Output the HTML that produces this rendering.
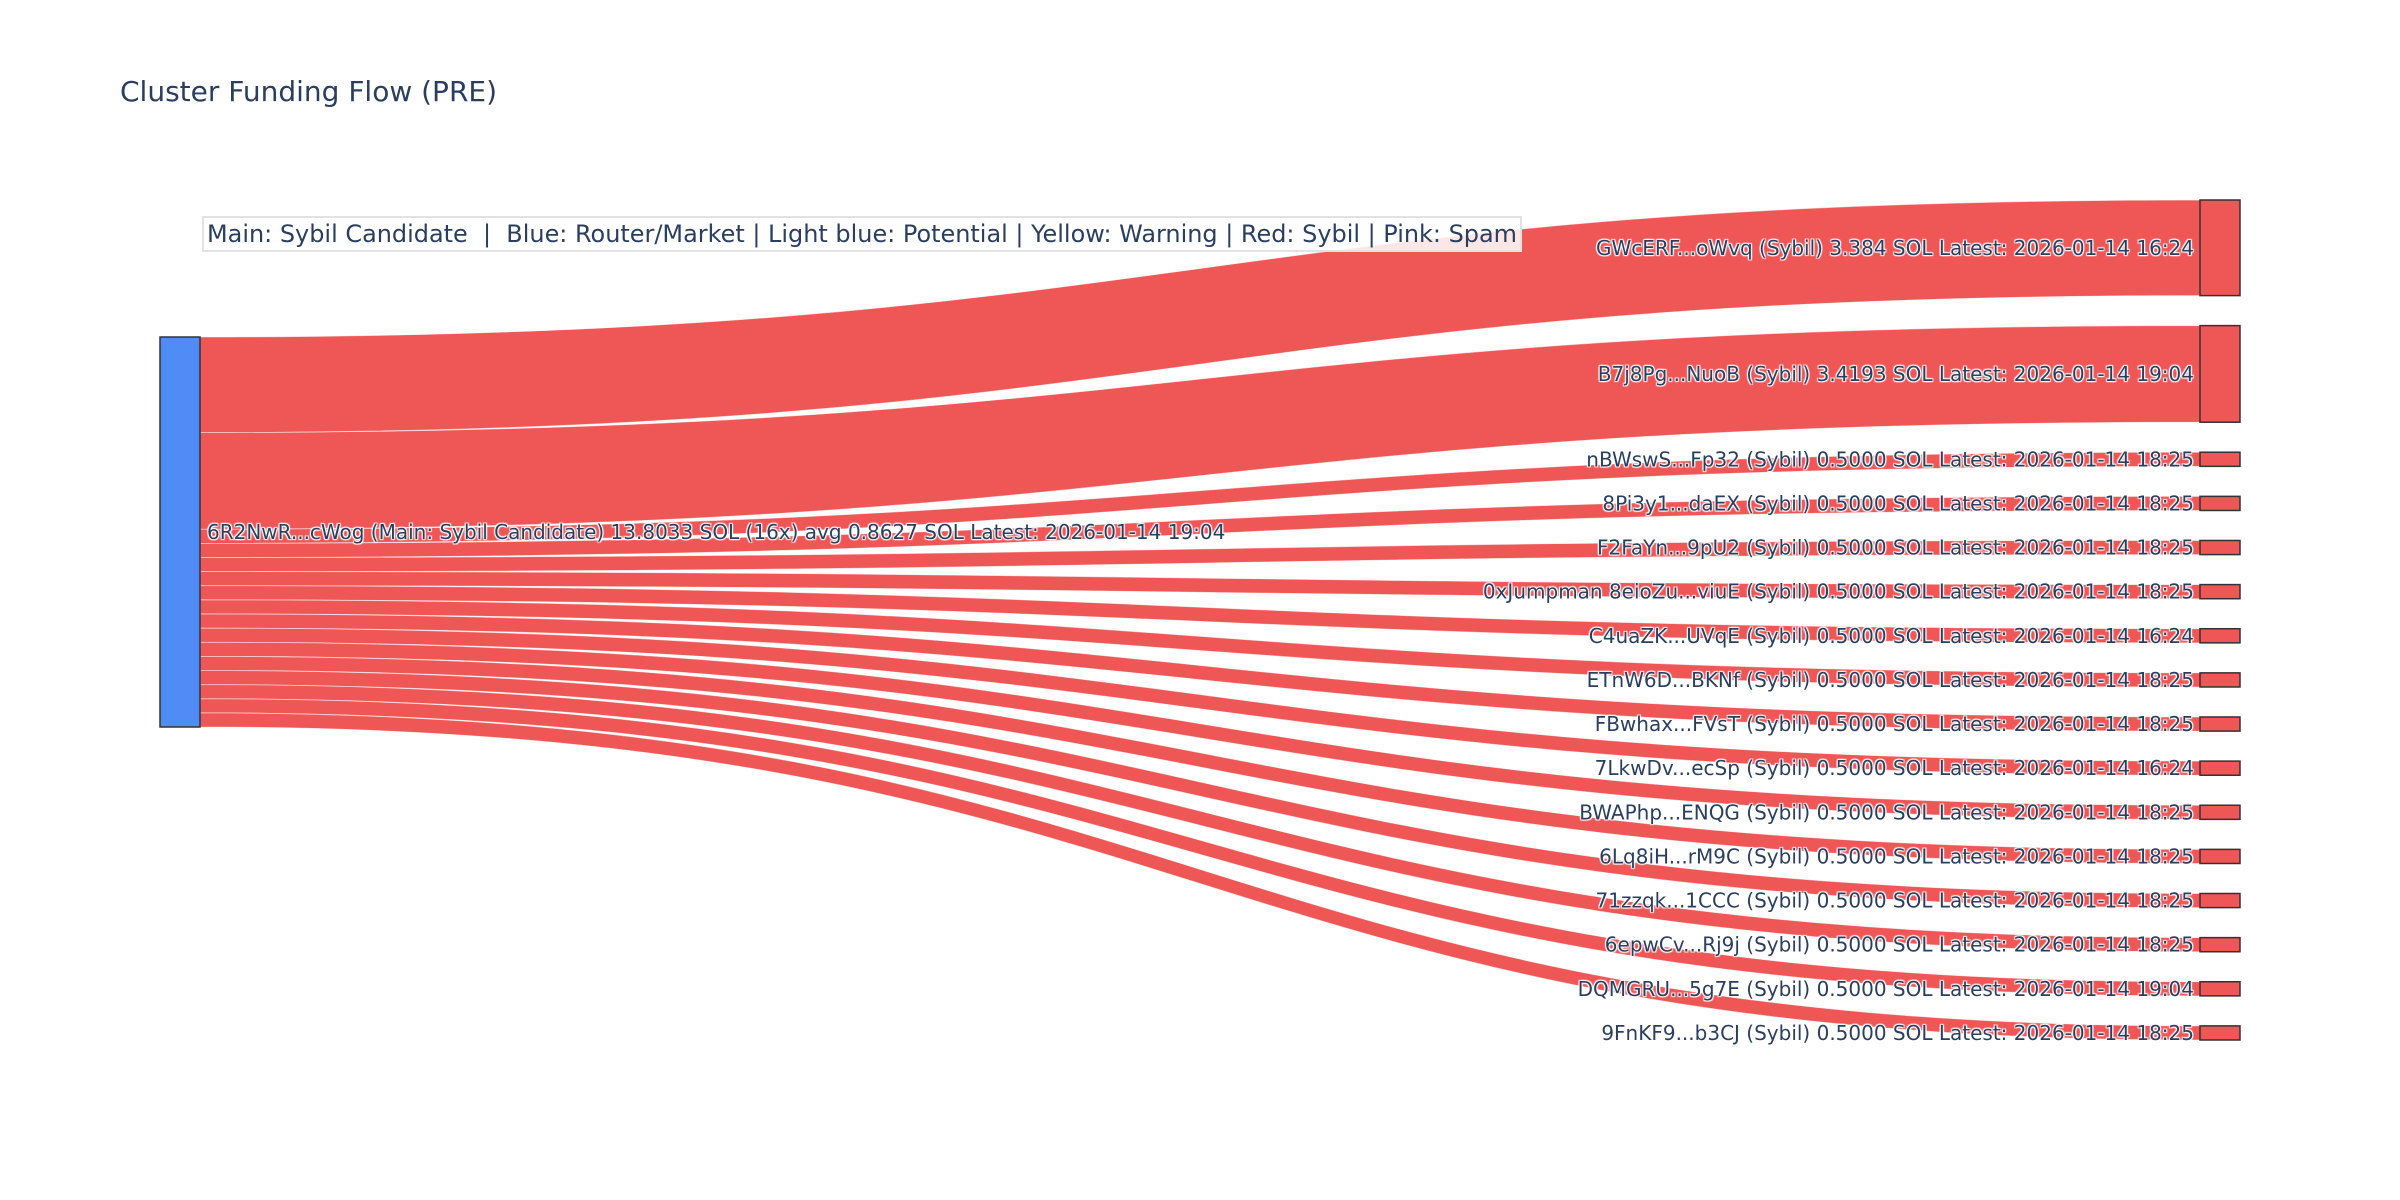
<!DOCTYPE html>
<html><head><meta charset="utf-8"><style>
html,body{margin:0;padding:0;background:#fff;}
svg{display:block;}
text{font-family:"DejaVu Sans","Liberation Sans",sans-serif;fill:#2a3f5f;}
.lbl{font-size:20px;text-shadow:1px 1px 1px #fff,-1px -1px 1px #fff,1px -1px 1px #fff,-1px 1px 1px #fff;}
</style></head><body>
<svg id="s" width="2400" height="1200" xmlns="http://www.w3.org/2000/svg">
<text x="120" y="101" font-size="28">Cluster Funding Flow (PRE)</text>
<g id="links"></g>
<g id="nodes"></g>
<rect x="203" y="217" width="1318" height="34" fill="rgba(255,255,255,0.85)" stroke="#e2e2e2" stroke-width="2"/>
<text x="207" y="242" font-size="24" textLength="1310" lengthAdjust="spacingAndGlyphs" style="white-space:pre">Main: Sybil Candidate  |  Blue: Router/Market | Light blue: Potential | Yellow: Warning | Red: Sybil | Pink: Spam</text>
<g id="labels"></g>
</svg>
<script>
var names=[
["GWcERF...oWvq (Sybil) 3.384 SOL Latest: 2026-01-14 16:24",3.384],
["B7j8Pg...NuoB (Sybil) 3.4193 SOL Latest: 2026-01-14 19:04",3.4193],
["nBWswS...Fp32 (Sybil) 0.5000 SOL Latest: 2026-01-14 18:25",0.5],
["8Pi3y1...daEX (Sybil) 0.5000 SOL Latest: 2026-01-14 18:25",0.5],
["F2FaYn...9pU2 (Sybil) 0.5000 SOL Latest: 2026-01-14 18:25",0.5],
["0xJumpman 8eioZu...viuE (Sybil) 0.5000 SOL Latest: 2026-01-14 18:25",0.5],
["C4uaZK...UVqE (Sybil) 0.5000 SOL Latest: 2026-01-14 16:24",0.5],
["ETnW6D...BKNf (Sybil) 0.5000 SOL Latest: 2026-01-14 18:25",0.5],
["FBwhax...FVsT (Sybil) 0.5000 SOL Latest: 2026-01-14 18:25",0.5],
["7LkwDv...ecSp (Sybil) 0.5000 SOL Latest: 2026-01-14 16:24",0.5],
["BWAPhp...ENQG (Sybil) 0.5000 SOL Latest: 2026-01-14 18:25",0.5],
["6Lq8iH...rM9C (Sybil) 0.5000 SOL Latest: 2026-01-14 18:25",0.5],
["71zzqk...1CCC (Sybil) 0.5000 SOL Latest: 2026-01-14 18:25",0.5],
["6epwCv...Rj9j (Sybil) 0.5000 SOL Latest: 2026-01-14 18:25",0.5],
["DQMGRU...5g7E (Sybil) 0.5000 SOL Latest: 2026-01-14 19:04",0.5],
["9FnKF9...b3CJ (Sybil) 0.5000 SOL Latest: 2026-01-14 18:25",0.5]];
var NS="http://www.w3.org/2000/svg";
function el(t,a,p){var e=document.createElementNS(NS,t);for(var k in a)e.setAttribute(k,a[k]);p.appendChild(e);return e;}
var L=document.getElementById("links"),N=document.getElementById("nodes"),T=document.getElementById("labels");
var total=13.8033,top0=337,H=390,k=H/total,x0=200,x1=2200,xm=1200,pad=30;
var ly=top0,ry=200;
for(var i=0;i<names.length;i++){
 var h=names[i][1]*k;
 var a=ly,b=ry;
 el("path",{d:"M"+x0+","+a+"C"+xm+","+a+" "+xm+","+b+" "+x1+","+b+"L"+x1+","+(b+h)+"C"+xm+","+(b+h)+" "+xm+","+(a+h)+" "+x0+","+(a+h)+"Z",fill:"#ef5656",stroke:"rgba(255,255,255,0.6)","stroke-width":"0.8"},L);
 el("rect",{x:x1,y:b,width:40,height:h,fill:"#ef5656",stroke:"#333","stroke-width":"1.5"},N);
 var t=el("text",{x:2194,y:b+h/2+7,"text-anchor":"end","class":"lbl"},T);t.textContent=names[i][0];
 ly+=h;ry+=h+pad;
}
el("rect",{x:160,y:top0,width:40,height:H,fill:"#4f8cf6",stroke:"#333","stroke-width":"1.5"},N);
var t=el("text",{x:207,y:539,"class":"lbl"},T);t.textContent="6R2NwR...cWog (Main: Sybil Candidate) 13.8033 SOL (16x) avg 0.8627 SOL Latest: 2026-01-14 19:04";
</script>
</body></html>
